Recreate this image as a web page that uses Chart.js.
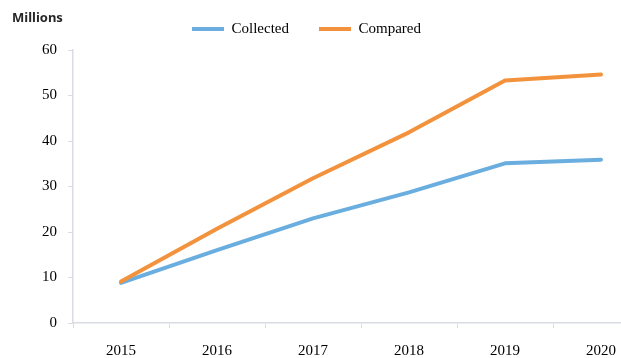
<!DOCTYPE html>
<html>
<head>
<meta charset="utf-8">
<script src="https://cdn.jsdelivr.net/npm/chart.js@4/dist/chart.umd.min.js"></script>
<style>
  html, body { margin: 0; padding: 0; background: #fff; overflow: hidden; }
  #wrap { width: 650px; height: 358px; }
</style>
</head>
<body>
<div id="wrap"><canvas id="chart-trend" width="650" height="358"></canvas></div>
<script>
/* Collected vs Compared, millions per year */

var YEARS     = ['2015', '2016', '2017', '2018', '2019', '2020'];
var COLLECTED = [8.8, 16.0, 23.0, 28.7, 35.1, 35.9];
var COMPARED  = [9.1, 20.7, 31.8, 41.9, 53.3, 54.6];
var Y_MIN = 0, Y_MAX = 60, Y_STEP = 10;
var UNIT_LABEL = 'Millions';

var BLUE   = '#6aaee0';
var ORANGE = '#f3923c';
var AXIS   = '#d9dce3';
var SERIF  = '"Liberation Serif", "Times New Roman", serif';

// unit caption top-left, and nudge the legend (plot runs past the right edge)
var frameText = {
  id: 'frameText',
  afterLayout: function(chart) {
    var lg = chart.legend;
    if (!lg) return;
    lg.left -= 24; lg.right -= 24;
    lg.top -= 3.5; lg.bottom -= 3.5;
  },
  afterDraw: function(chart) {
    var ctx = chart.ctx;
    ctx.save();
    ctx.font = 'bold 13px "Noto Sans", sans-serif';
    ctx.fillStyle = '#262626';
    ctx.textAlign = 'left';
    ctx.textBaseline = 'middle';
    ctx.fillText(UNIT_LABEL, 12, 18);
    ctx.restore();
  }
};

var chartTrend = new Chart(document.getElementById('chart-trend'), {
  type: 'line',
  data: {
    labels: YEARS,
    datasets: [
      { label: 'Collected', data: COLLECTED, borderColor: BLUE, backgroundColor: BLUE,
        borderWidth: 4, pointRadius: 0, tension: 0, order: 1,
        borderCapStyle: 'round', borderJoinStyle: 'round' },
      { label: 'Compared', data: COMPARED, borderColor: ORANGE, backgroundColor: ORANGE,
        borderWidth: 4, pointRadius: 0, tension: 0, order: 0,
        borderCapStyle: 'round', borderJoinStyle: 'round' }
    ]
  },
  plugins: [frameText],
  options: {
    responsive: false,
    animation: false,
    devicePixelRatio: 1,
    layout: { padding: { left: 12, right: 1, top: -5, bottom: -16 } },
    plugins: {
      tooltip: { enabled: false },
      legend: {
        position: 'top',
        labels: {
          sort: function(a, b) { return a.datasetIndex - b.datasetIndex; },
          color: '#000', font: { family: SERIF, size: 15 },
          usePointStyle: true, pointStyle: 'line', pointStyleWidth: 32,
          padding: 30
        }
      }
    },
    scales: {
      x: {
        offset: true,
        grid: { offset: true, drawOnChartArea: false, tickLength: 5, color: AXIS },
        border: { color: AXIS, width: 1.5 },
        ticks: { color: '#000', padding: 14, font: { family: SERIF, size: 15 } }
      },
      y: {
        min: Y_MIN, max: Y_MAX,
        afterFit: function(scale) { scale.width = 61; },
        grid: { drawOnChartArea: false, tickLength: 5, color: AXIS },
        border: { color: AXIS, width: 1.5 },
        ticks: { stepSize: Y_STEP, color: '#000', padding: 11, font: { family: SERIF, size: 15 } }
      }
    }
  }
});
</script>
</body>
</html>
